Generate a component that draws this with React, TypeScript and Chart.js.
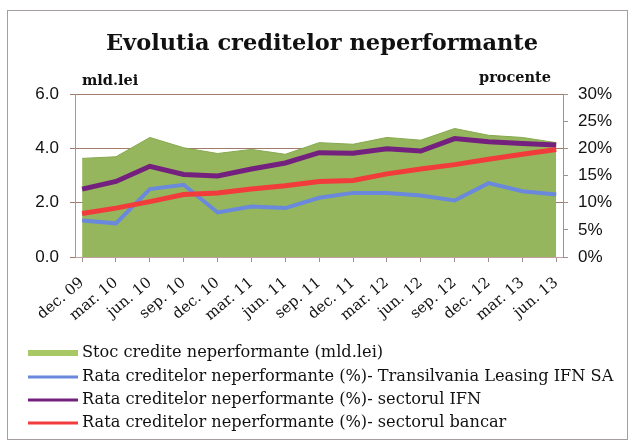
import { useEffect, useRef } from 'react';
import { Chart, registerables } from 'chart.js';

Chart.register(...registerables);

const categories = ['dec. 09', 'mar. 10', 'jun. 10', 'sep. 10', 'dec. 10', 'mar. 11', 'jun. 11', 'sep. 11', 'dec. 11', 'mar. 12', 'jun. 12', 'sep. 12', 'dec. 12', 'mar. 13', 'jun. 13'];
const stocCredite = [3.63, 3.69, 4.40, 4.02, 3.81, 3.96, 3.78, 4.21, 4.15, 4.40, 4.30, 4.73, 4.48, 4.40, 4.21];
const rataTransilvania = [6.7, 6.2, 12.5, 13.3, 8.2, 9.3, 9.0, 10.9, 11.8, 11.8, 11.3, 10.4, 13.6, 12.1, 11.5];
const rataIFN = [12.5, 13.9, 16.7, 15.2, 14.9, 16.2, 17.3, 19.2, 19.1, 19.9, 19.5, 21.8, 21.2, 20.9, 20.6];
const rataBancar = [8.0, 9.0, 10.2, 11.5, 11.8, 12.5, 13.1, 13.9, 14.1, 15.3, 16.2, 17.0, 18.0, 18.9, 19.8];
const seriesNames = [
  'Stoc credite neperformante (mld.lei)',
  'Rata creditelor neperformante (%)- Transilvania Leasing IFN SA',
  'Rata creditelor neperformante (%)- sectorul IFN',
  'Rata creditelor neperformante (%)- sectorul bancar',
];
const titleText = 'Evolutia creditelor neperformante';
const leftAxisTitle = 'mld.lei';
const rightAxisTitle = 'procente';

const GREEN = '#95b65c';
const GREEN_LEG = '#a8c865';
const BLUE = '#6a88dc';
const PURPLE = '#74207f';
const RED = '#f23b3b';

const toPoints = (arr: number[]) => arr.map((v, i) => ({ x: i, y: v }));

const decorPlugin = {
  id: 'decor',
  afterDraw(chart: any) {
    const ctx = chart.ctx as CanvasRenderingContext2D;
    const ca = chart.chartArea;
    ctx.save();
    // frame
    ctx.strokeStyle = '#a89ca4';
    ctx.lineWidth = 1;
    ctx.strokeRect(7.5, 10.5, 620, 429);
    // title
    ctx.fillStyle = '#111';
    ctx.font = 'bold 22.5px "DejaVu Serif"';
    ctx.textAlign = 'center';
    ctx.textBaseline = 'alphabetic';
    ctx.fillText(titleText, 322, 50);
    // axis titles
    ctx.font = 'bold 14.5px "DejaVu Serif"';
    ctx.textAlign = 'left';
    ctx.fillText(leftAxisTitle, ca.left + 7, 85);
    ctx.textAlign = 'right';
    ctx.fillText(rightAxisTitle, ca.right - 12, 82);
    // legend
    const colors = [GREEN_LEG, BLUE, PURPLE, RED];
    const widths = [6, 3, 3, 3];
    const rows = [353, 377, 400, 423];
    ctx.font = '16.2px "DejaVu Serif"';
    ctx.textAlign = 'left';
    ctx.textBaseline = 'middle';
    seriesNames.forEach((name, i) => {
      ctx.fillStyle = colors[i];
      ctx.fillRect(28, rows[i] - widths[i] / 2, 50, widths[i]);
      ctx.fillStyle = '#111';
      ctx.fillText(name, 82, rows[i]);
    });
    ctx.restore();
  },
};

export default function App() {
  const ref = useRef<HTMLCanvasElement>(null);
  useEffect(() => {
    const chart = new Chart(ref.current!, {
      type: 'line',
      data: {
        datasets: [
          {
            label: seriesNames[0],
            data: toPoints(stocCredite),
            yAxisID: 'y',
            fill: 'origin',
            backgroundColor: GREEN,
            borderColor: '#86a84f',
            borderWidth: 1,
            pointRadius: 0,
            order: 10,
          },
          {
            label: seriesNames[1],
            data: toPoints(rataTransilvania),
            yAxisID: 'y2',
            borderColor: BLUE,
            borderWidth: 4,
            pointRadius: 0,
            fill: false,
            order: 3,
          },
          {
            label: seriesNames[2],
            data: toPoints(rataIFN),
            yAxisID: 'y2',
            borderColor: PURPLE,
            borderWidth: 5,
            pointRadius: 0,
            fill: false,
            order: 2,
          },
          {
            label: seriesNames[3],
            data: toPoints(rataBancar),
            yAxisID: 'y2',
            borderColor: RED,
            borderWidth: 5,
            pointRadius: 0,
            fill: false,
            order: 1,
          },
        ],
      },
      options: {
        animation: false,
        responsive: true,
        maintainAspectRatio: false,
        layout: { padding: { top: 94, left: 0, right: 0, bottom: 0 } },
        plugins: { legend: { display: false }, title: { display: false }, tooltip: { enabled: false } },
        scales: {
          x: {
            type: 'linear',
            min: -0.21,
            max: 14.2,
            afterFit: (s: any) => { s.height = 185; },
            ticks: {
              stepSize: 1,
              includeBounds: false,
              autoSkip: false,
              minRotation: 40,
              maxRotation: 40,
              padding: 12,
              color: '#111',
              font: { family: '"DejaVu Serif"', size: 15 },
              callback: (v: any) => (Number.isInteger(v) ? categories[v] ?? '' : ''),
            },
            grid: { drawOnChartArea: false, drawTicks: true, tickLength: 5, color: '#a09090' },
            border: { color: '#c0a0a0' },
          },
          y: {
            position: 'left',
            min: 0,
            max: 6,
            afterFit: (s: any) => { s.width = 75; },
            ticks: {
              stepSize: 2,
              padding: 11,
              color: '#111',
              font: { family: '"Liberation Sans"', size: 17 },
              callback: (v: any) => Number(v).toFixed(1),
            },
            grid: { color: '#a07a6a', tickLength: 5, drawTicks: true },
            border: { color: '#9a98b8' },
          },
          y2: {
            position: 'right',
            min: 0,
            max: 30,
            afterFit: (s: any) => { s.width = 67; },
            ticks: {
              stepSize: 5,
              padding: 10,
              color: '#111',
              font: { family: '"Liberation Sans"', size: 17 },
              callback: (v: any) => v + '%',
            },
            grid: { drawOnChartArea: false, tickLength: 5, color: '#a09090' },
            border: { color: '#8a90c8' },
          },
        },
      },
      plugins: [decorPlugin],
    } as any);
    return () => chart.destroy();
  }, []);
  return (
    <div style={{ position: 'fixed', left: 0, top: 0, width: 630, height: 442, background: '#fff' }}>
      <canvas ref={ref} />
    </div>
  );
}
